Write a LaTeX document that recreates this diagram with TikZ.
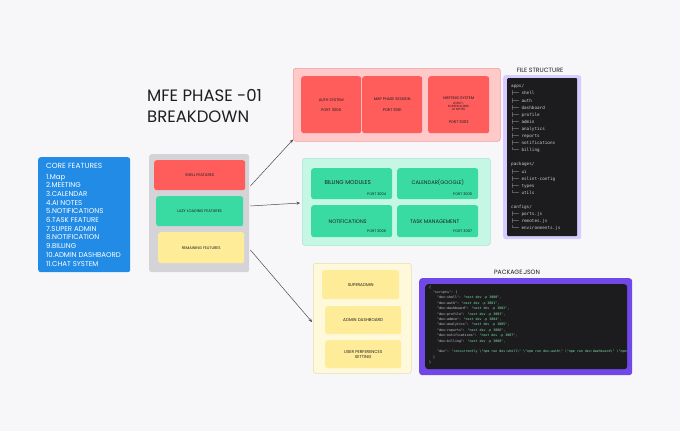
\documentclass[tikz,border=0pt]{standalone}
\usepackage{fontspec}
\setmainfont{Poppins}
\newfontfamily\codefont{DejaVu Sans Mono}
\usetikzlibrary{arrows.meta,calc}
\definecolor{bgc}{HTML}{F7F7F9}
\definecolor{ink}{HTML}{1E1E1E}
\definecolor{blueb}{HTML}{228BE6}
\definecolor{grayc}{HTML}{D4D4D8}
\definecolor{redin}{HTML}{FF5C5C}
\definecolor{redout}{HTML}{FFC9C9}
\definecolor{redln}{HTML}{F0A0A0}
\definecolor{greenin}{HTML}{3ADBA2}
\definecolor{greenout}{HTML}{C6F7E5}
\definecolor{greenln}{HTML}{A8E6D0}
\definecolor{yellin}{HTML}{FFEC99}
\definecolor{yellout}{HTML}{FFF9DB}
\definecolor{yellln}{HTML}{E8DDB0}
\definecolor{lav}{HTML}{D6CCFF}
\definecolor{purp}{HTML}{7048E8}
\definecolor{darkc}{HTML}{1C1C1E}
\definecolor{codeg}{HTML}{C9CCD1}
\definecolor{codev}{HTML}{7EE2A8}
\tikzset{
  box/.style={anchor=north west, rounded corners=2.5pt, inner sep=0pt},
  lbl/.style={text=ink, align=center, inner sep=0pt},
  conn/.style={draw=ink!80, line width=0.5pt, -{Stealth[length=3.5pt,width=3pt]}},
}
\newcommand{\fs}[1]{\fontsize{#1}{#1}\selectfont}
\begin{document}
\begin{tikzpicture}[x=1pt,y=-1pt]
\useasboundingbox (0,0) rectangle (680,431);
\fill[bgc] (0,0) rectangle (680,431);

% core features
\node[box, fill=blueb, minimum width=92pt, minimum height=115pt] (core) at (38,157) {};
\node[anchor=north west, inner sep=0pt, text=white, align=left, font=\fs{7}] (corelist) at (46,163)
 {\fs{7.4}CORE FEATURES\\[3.6pt]
 1.Map\\[1.7pt]2.MEETING\\[1.7pt]3.CALENDAR\\[1.7pt]4.AI NOTES\\[1.7pt]5.NOTIFICATIONS\\[1.7pt]6.TASK FEATURE\\[1.7pt]7.SUPER ADMIN\\[1.7pt]8.NOTIFICATION\\[1.7pt]9.BILLING\\[1.7pt]10.ADMIN DASHBAORD\\[1.7pt]11.CHAT SYSTEM};

% title
\node[anchor=north west, inner sep=0pt, text=ink, align=left, font=\fs{16.5}] (title) at (147,89)
 {MFE PHASE -01\\[5pt]BREAKDOWN};

% gray container
\node[box, fill=grayc, minimum width=100pt, minimum height=118pt] (gray) at (149,154) {};
\node[box, fill=redin, minimum width=91pt, minimum height=30pt] (shell) at (154,160) {};
\node[lbl, font=\fs{3.8}] at (shell.center) {SHELL FEATURES};
\node[box, fill=greenin, minimum width=87pt, minimum height=30pt] (lazy) at (156,196) {};
\node[lbl, font=\fs{3.8}] at (lazy.center) {LAZY LOADING FEATURES};
\node[box, fill=yellin, minimum width=86pt, minimum height=31pt] (rem) at (158,232) {};
\node[lbl, font=\fs{3.8}] at (rem.center) {REMAINING FEATURES};

% red container
\node[box, fill=redout, draw=redln, line width=0.6pt, minimum width=207pt, minimum height=73pt] (redc) at (293,68) {};
\node[box, fill=redin, minimum width=60pt, minimum height=57pt] (auth) at (301,76) {};
\node[lbl, font=\fs{3.8}] at ($(auth.center)+(0,-5)$) {AUTH SYSTEM};
\node[lbl, font=\fs{3.8}] at ($(auth.center)+(0,5)$) {PORT 3000};
\node[box, fill=redin, minimum width=60pt, minimum height=57pt] (map) at (362,76) {};
\node[lbl, font=\fs{3.8}] at ($(map.center)+(0,-6)$) {MAP PHASE SESSION};
\node[lbl, font=\fs{3.8}] at ($(map.center)+(0,5)$) {PORT 3001};
\node[box, fill=redin, minimum width=61pt, minimum height=57pt] (meet) at (428,76) {};
\node[lbl, font=\fs{3.8}] at ($(meet.center)+(0,-6.5)$) {MEETING SYSTEM};
\node[lbl, font=\fs{3}, align=center] at ($(meet.center)+(0,2)$) {LIVEKIT ,\\SCREEN SHARE,\\AI NOTES};
\node[lbl, font=\fs{3.8}] at ($(meet.center)+(0,17.5)$) {PORT 3003};

% green container
\node[box, fill=greenout, draw=greenln, line width=0.6pt, minimum width=188pt, minimum height=87pt] (greenc) at (302,158) {};
\node[box, fill=greenin, minimum width=81pt, minimum height=31pt] (bill) at (311,168) {};
\node[lbl, font=\fs{5.6}] at ($(bill.center)+(-4,-1)$) {BILLING MODULES};
\node[lbl, font=\fs{3.6}] at ($(bill.center)+(25,10)$) {PORT 3004};
\node[box, fill=greenin, minimum width=81pt, minimum height=31pt] (cal) at (397,168) {};
\node[lbl, font=\fs{5.2}] at ($(cal.center)+(0,-1)$) {CALENDAR(GOOGLE)};
\node[lbl, font=\fs{3.6}] at ($(cal.center)+(25,10)$) {PORT 3005};
\node[box, fill=greenin, minimum width=81pt, minimum height=32pt] (notif) at (311,205) {};
\node[lbl, font=\fs{5.2}] at ($(notif.center)+(-4,0)$) {NOTIFICATIONS};
\node[lbl, font=\fs{3.6}] at ($(notif.center)+(25,10)$) {PORT 3006};
\node[box, fill=greenin, minimum width=81pt, minimum height=32pt] (task) at (397,205) {};
\node[lbl, font=\fs{5.2}] at ($(task.center)+(-3,0)$) {TASK MANAGEMENT};
\node[lbl, font=\fs{3.6}] at ($(task.center)+(25,10)$) {PORT 3007};

% yellow container
\node[box, fill=yellout, draw=yellln, line width=0.6pt, minimum width=98pt, minimum height=110pt] (yellc) at (313,263) {};
\node[box, fill=yellin, minimum width=77pt, minimum height=29pt] (super) at (322,270) {};
\node[lbl, font=\fs{4.2}] at (super.center) {SUPERADMIN};
\node[box, fill=yellin, minimum width=76pt, minimum height=28pt] (adash) at (325,306) {};
\node[lbl, font=\fs{4.2}] at (adash.center) {ADMIN DASHBOARD};
\node[box, fill=yellin, minimum width=76pt, minimum height=28pt] (upref) at (325,340) {};
\node[lbl, font=\fs{4.2}, align=center] at (upref.center) {USER PERFERENCES\\[1pt]SETTING};

% connectors
\draw[conn] ($(gray.north east)+(1,32)$) -- ($(redc.south west)+(0,-2)$);
\draw[conn] ($(gray.north east)+(1,52)$) -- ($(greenc.north west)+(-2,45)$);
\draw[conn] ($(gray.north east)+(1,96)$) -- ($(yellc.north west)+(-1,59)$);

% file structure
\node[lbl, font=\fs{6.2}] (fstitle) at (540,70) {FILE STRUCTURE};
\node[box, fill=lav, minimum width=78pt, minimum height=164pt] (fsout) at (503,75) {};
\node[box, fill=darkc, rounded corners=1pt, minimum width=70pt, minimum height=158pt] (fsin) at (507,78) {};
\node[anchor=north west, inner sep=0pt, align=left, text=codeg, font=\codefont\fontsize{4.3}{7.1}\selectfont] (tree) at (511,84.5)
 {apps/\\
 ├── shell\\
 ├── auth\\
 ├── dashboard\\
 ├── profile\\
 ├── admin\\
 ├── analytics\\
 ├── reports\\
 ├── notifications\\
 └── billing\\
 \mbox{}\\
 packages/\\
 ├── ui\\
 ├── eslint-config\\
 ├── types\\
 └── utils\\
 \mbox{}\\
 configs/\\
 ├── ports.js\\
 ├── remotes.js\\
 └── environments.js};

% package.json
\node[lbl, font=\fs{6.2}] (pjtitle) at (517,272) {PACKAGE.JSON};
\node[box, fill=purp, rounded corners=3pt, minimum width=213pt, minimum height=97pt] (pjout) at (419,278) {};
\node[box, fill=darkc, rounded corners=3pt, minimum width=202pt, minimum height=85pt] (pjin) at (425,284) {};
\begin{scope}
\clip[rounded corners=3pt] (pjin.north west) rectangle (pjin.south east);
\node[anchor=north west, inner sep=0pt, align=left, text=codeg, font=\codefont\fontsize{3.3}{5.4}\selectfont] (code) at (429,285.3)
 {\{\\
 \ \ "scripts": \{\\
 \ \ \ \ "dev:shell": \textcolor{codev}{"next dev -p 3000"},\\
 \ \ \ \ "dev:auth": \textcolor{codev}{"next dev -p 3001"},\\
 \ \ \ \ "dev:dashboard": \textcolor{codev}{"next dev -p 3002"},\\
 \ \ \ \ "dev:profile": \textcolor{codev}{"next dev -p 3003"},\\
 \ \ \ \ "dev:admin": \textcolor{codev}{"next dev -p 3004"},\\
 \ \ \ \ "dev:analytics": \textcolor{codev}{"next dev -p 3005"},\\
 \ \ \ \ "dev:reports": \textcolor{codev}{"next dev -p 3006"},\\
 \ \ \ \ "dev:notifications": \textcolor{codev}{"next dev -p 3007"},\\
 \ \ \ \ "dev:billing": \textcolor{codev}{"next dev -p 3008"},\\
 \mbox{}\\
 \ \ \ \ "dev": \textcolor{codev}{"concurrently \textbackslash"npm run dev:shell\textbackslash" \textbackslash"npm run dev:auth\textbackslash" \textbackslash"npm run dev:dashboard\textbackslash" \textbackslash"npm run dev:profile\textbackslash""}\\
 \ \ \}\\
 \}};
\end{scope}
\end{tikzpicture}
\end{document}
